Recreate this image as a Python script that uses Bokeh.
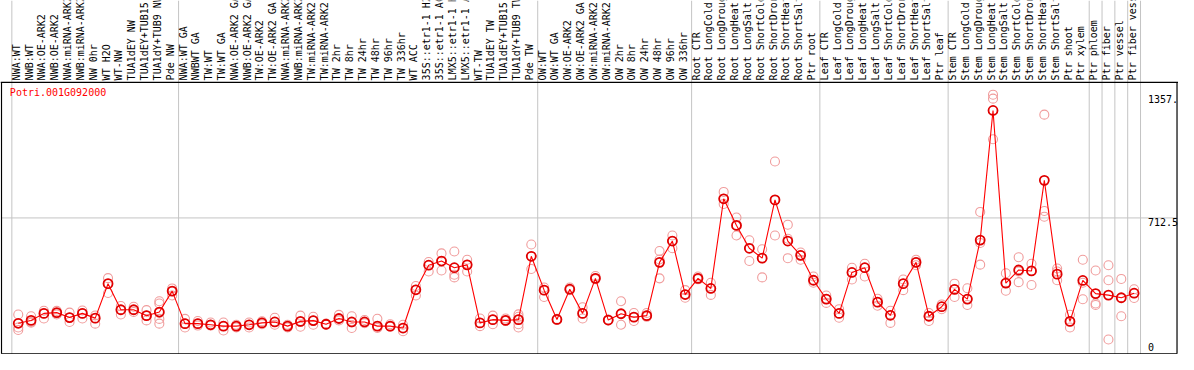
import math
from bokeh.plotting import figure
from bokeh.models import Range1d
from bokeh.core.properties import value
from bokeh.embed import file_html
from bokeh.resources import INLINE

gene = "Potri.001G092000"

categories = [
    "NWA:WT", "NWB:WT", "NWA:OE-ARK2", "NWB:OE-ARK2", "NWA:miRNA-ARK2", "NWB:miRNA-ARK2",
    "NW 0hr", "WT H2O", "WT-NW", "TUA1dEY NW", "TUA1dEY+TUB15 NW", "TUA1dY+TUB9 NW", "Pde NW",
    "NWA:WT GA", "NWBWT GA", "TW:WT", "TW:WT GA", "NWA:OE-ARK2 GA", "NWB:OE-ARK2 GA",
    "TW:OE-ARK2", "TW:OE-ARK2 GA", "NWA:miRNA-ARK2 GA", "NWB:miRNA-ARK2 GA", "TW:miRNA-ARK2",
    "TW:miRNA-ARK2 GA", "TW 2hr", "TW 8hr", "TW 24hr", "TW 48hr", "TW 96hr", "TW 336hr",
    "WT ACC", "35S::etr1-1 H2O", "35S::etr1-1 ACC", "LMX5::etr1-1 H2O", "LMX5::etr1-1 ACC",
    "WT-TW", "TUA1dEY TW", "TUA1dEY+TUB15 TW", "TUA1dY+TUB9 TW", "Pde TW",
    "OW:WT", "OW:WT GA", "OW:OE-ARK2", "OW:OE-ARK2 GA", "OW:miRNA-ARK2", "OW:miRNA-ARK2 GA",
    "OW 2hr", "OW 8hr", "OW 24hr", "OW 48hr", "OW 96hr", "OW 336hr",
    "Root CTR", "Root LongCold", "Root LongDrought", "Root LongHeat", "Root LongSalt",
    "Root ShortCold", "Root ShortDrought", "Root ShortHeat", "Root ShortSalt", "Ptr root",
    "Leaf CTR", "Leaf LongCold", "Leaf LongDrought", "Leaf LongHeat", "Leaf LongSalt",
    "Leaf ShortCold", "Leaf ShortDrought", "Leaf ShortHeat", "Leaf ShortSalt", "Ptr leaf",
    "Stem CTR", "Stem LongCold", "Stem LongDrought", "Stem LongHeat", "Stem LongSalt",
    "Stem ShortCold", "Stem ShortDrought", "Stem ShortHeat", "Stem ShortSalt", "Ptr shoot",
    "Ptr xylem", "Ptr phloem", "Ptr fiber", "Ptr vessel", "Ptr fiber vessel",
]

means = [
    159, 174, 211, 215, 189, 211, 186, 367, 230, 230, 199, 218, 328,
    157, 157, 151, 144, 144, 151, 161, 166, 144, 169, 173, 154, 184, 166, 166, 144, 144, 134,
    335, 464, 486, 451, 466, 161, 178, 174, 178, 511,
    333, 179, 338, 211, 395, 176, 209, 191, 199, 479, 591, 310,
    395, 342, 813, 673, 553, 501, 807, 591, 516, 385,
    286, 211, 426, 451, 270, 201, 367, 479, 196, 246,
    337, 286, 596, 1277, 370, 439, 434, 910, 417, 169,
    384, 315, 307, 293, 317,
]

replicates = [
    [205, 137, 124], [196, 166, 162], [225, 211, 184], [224, 211, 205], [215, 166, 189],
    [226, 211, 184], [200, 186, 157], [396, 367, 318], [250, 230, 205], [246, 230, 218],
    [228, 199, 174], [275, 263, 213, 182, 157], [342, 328, 305],
    [182, 157, 137], [171, 157, 147], [163, 151, 147], [163, 144, 121], [144, 137, 151],
    [163, 151, 137], [169, 161, 154], [188, 166, 151], [151, 144, 137], [199, 166, 141],
    [193, 173, 151], [154, 151, 157], [203, 184, 174], [196, 163, 134], [176, 166, 159],
    [183, 144, 134], [154, 144, 141], [151, 134, 117], [355, 335, 305], [481, 464, 431],
    [526, 486, 436], [536, 414, 400], [493, 466, 431], [184, 161, 144], [199, 178, 154],
    [184, 174, 171], [206, 193, 178, 154, 137], [573, 511, 444],
    [347, 333, 297], [179, 176, 182], [347, 338, 333], [243, 211, 184], [407, 395, 390],
    [176, 174, 178], [275, 209, 151], [213, 191, 171], [213, 199, 193], [539, 494, 395],
    [620, 591, 553], [333, 310, 293],
    [405, 395, 390], [372, 342, 308], [849, 813, 786], [715, 673, 620], [595, 553, 486],
    [548, 501, 400], [1009, 807, 620], [677, 603, 501], [531, 516, 493], [405, 385, 372],
    [305, 286, 266], [233, 211, 188], [451, 426, 389], [472, 451, 405], [288, 270, 251],
    [225, 201, 161], [389, 367, 333], [493, 479, 464], [213, 196, 171], [258, 246, 233],
    [367, 337, 297], [343, 286, 255], [744, 581, 467], [1360, 1339, 1126], [422, 370, 330],
    [506, 431, 375], [472, 434, 360], [1255, 749, 719], [447, 431, 385], [204, 169, 137],
    [493, 372, 285], [436, 263, 255], [464, 385, 74], [392, 293, 196], [338, 317, 292],
]

group_sizes = [13, 28, 12, 10, 10, 11, 1, 1, 1, 1]
ytick_values = [0, 712.5, 1357]
ytick_labels = ["0", "712.5", "1357."]
y_max = 1425

# ---- geometry (expressed in pixels of the 1194x370 reference) ----
W, H = 1178, 354
REF_W, REF_H = 1194, 370
X0, DX = 18.0, 13.0
TOP, BOT = 85.5, 369.0
u = y_max / (BOT - TOP)

def px_x(px):
    return (px - X0) / DX

def px_y(py):
    return (BOT - py) * u

x_start, x_end = px_x(0), px_x(REF_W)
y_start, y_end = px_y(REF_H), px_y(0)

p = figure(width=W, height=H, x_range=Range1d(x_start, x_end), y_range=Range1d(y_start, y_end),
           output_backend="svg", toolbar_location=None, min_border=0,
           x_axis_location=None, y_axis_location=None)
p.grid.visible = False
p.outline_line_color = None
p.background_fill_color = "white"
p.border_fill_color = "white"

mono = value("DejaVu Sans Mono")
GRAY = "#c4c4c4"

# separators between groups
bounds = [-0.5]
for g in group_sizes:
    bounds.append(bounds[-1] + g)
p.segment(x0=bounds, y0=[y_start] * len(bounds), x1=bounds, y1=[y_end] * len(bounds),
          line_color=GRAY, line_width=1)

# horizontal mid grid line
left_b, right_b = px_x(1), px_x(1192.5)
p.segment(x0=[left_b], y0=[ytick_values[1]], x1=[right_b], y1=[ytick_values[1]],
          line_color=GRAY, line_width=1)

# frame
p.segment(x0=[x_start, left_b, right_b, left_b], y0=[y_max, y_max, y_max, px_y(369.3)],
          x1=[x_end, left_b, right_b, right_b], y1=[y_max, px_y(369.3), px_y(369.3), px_y(369.3)],
          line_color="black", line_width=1.2)

# category labels in the header
idx = list(range(len(categories)))
p.text(x=[i - 2.0 / DX for i in idx], y=[px_y(83.5)] * len(idx), text=categories,
       angle=math.pi / 2, text_align="left", text_baseline="middle",
       text_font=mono, text_font_size="10px", text_color="black")

# gene title
p.text(x=[px_x(9.5)], y=[px_y(96.5)], text=[gene], text_align="left", text_baseline="middle",
       text_font=mono, text_font_size="10px", text_color="#ff0000")

# value labels on the right
lab_x = px_x(1163)
p.text(x=[lab_x] * 2, y=ytick_values[1:], text=ytick_labels[1:], text_align="left",
       text_baseline="top", text_font=mono, text_font_size="10px", text_color="black")
p.text(x=[lab_x], y=[ytick_values[0] + 2.5 * u], text=ytick_labels[:1], text_align="left",
       text_baseline="bottom", text_font=mono, text_font_size="10px", text_color="black")

# replicate points
rx, ry = [], []
for i, reps in enumerate(replicates):
    for v in reps:
        rx.append(i)
        ry.append(v)
p.scatter(rx, ry, marker="circle", size=9, fill_color=None, line_color="#f09c9c", line_width=1.1)

# mean line + markers
p.line(idx, means, line_color="#ff0000", line_width=1.1)
p.scatter(idx, means, marker="circle", size=9, fill_color=None, line_color="#e00000", line_width=1.8)

open("out.html", "w").write(file_html(p, INLINE))
